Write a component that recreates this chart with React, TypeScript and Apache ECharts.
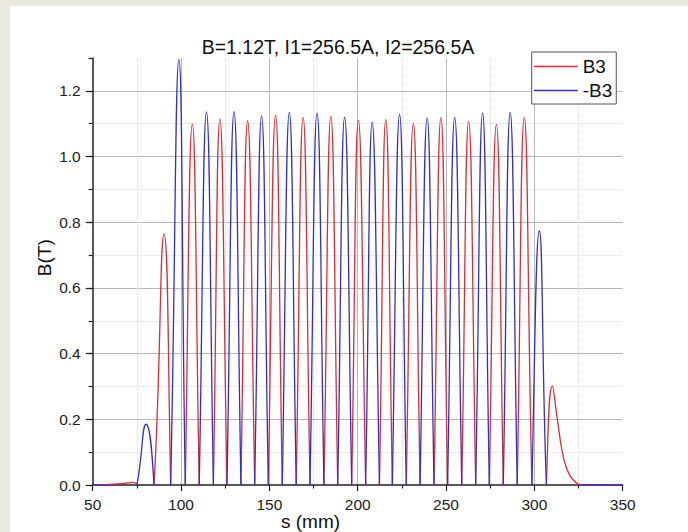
import React, { useEffect, useRef } from 'react';
import * as echarts from 'echarts';

// Zero crossings of B3 (mm)
const crossS = [
  75.0, 84.7, 94.15, 102.4, 110.3, 118.3, 126.0, 133.9, 141.7, 149.4,
  157.3, 165.2, 173.0, 180.9, 188.7, 196.6, 204.5, 212.3, 219.6, 227.5,
  235.3, 243.2, 250.9, 258.9, 266.8, 274.5, 282.4, 290.3, 298.6, 306.8,
];
// Extremes of B3 (position in mm, signed value in T)
const peakS = [
  80.2, 90.4, 98.8, 106.4, 114.4, 122.0, 130.0, 137.7, 145.6, 153.5,
  161.3, 169.1, 177.0, 184.8, 192.6, 200.4, 208.2, 215.9, 223.7, 231.5,
  239.3, 247.1, 254.9, 262.8, 270.7, 278.5, 286.3, 294.3, 302.8, 310.2,
];
const peakB3 = [
  -0.185, 0.764, -1.296, 1.099, -1.136, 1.114, -1.137, 1.109, -1.124, 1.126,
  -1.134, 1.119, -1.133, 1.122, -1.12, 1.111, -1.105, 1.113, -1.128, 1.101,
  -1.118, 1.119, -1.119, 1.107, -1.133, 1.098, -1.134, 1.119, -0.774, 0.301,
];
// Fringe field before the first crossing and after the last peak
const leadS = [50, 60, 68, 72.8];
const leadB3 = [0.0, 0.002, 0.005, 0.008];
const tailS = [313.0, 315.8, 318.0, 320.6, 323.5, 327.0, 350];
const tailB3 = [0.2, 0.1, 0.055, 0.025, 0.008, 0.0, 0.0];

const yMajor = [0, 0.2, 0.4, 0.6, 0.8, 1.0, 1.2];
const titleText = 'B=1.12T, I1=256.5A, I2=256.5A';
const seriesNames = ['B3', '-B3'];

const RED = '#dd2c33';
const BLUE = '#2f2fd0';
const FONT = "'Liberation Sans', Arial, sans-serif";
const AXIS = '#222';

function buildB3(): [number, number][] {
  const pts: [number, number][] = [];
  leadS.forEach((s, i) => pts.push([s, leadB3[i]]));
  for (let i = 0; i < peakS.length; i++) {
    pts.push([crossS[i], 0]);
    pts.push([peakS[i], peakB3[i]]);
  }
  tailS.forEach((s, i) => pts.push([s, tailB3[i]]));
  return pts;
}

export default function App() {
  const ref = useRef<HTMLDivElement>(null);
  useEffect(() => {
    if (!ref.current) return;
    const chart = echarts.init(ref.current, undefined, { renderer: 'svg' });
    const b3 = buildB3();
    const mb3 = b3.map(([s, v]) => [s, -v]);
    const tickLine = { color: AXIS, width: 1.2 };
    chart.setOption({
      animation: false,
      backgroundColor: '#ffffff',
      grid: { left: 82.7, right: 65.3, top: 52, bottom: 47, containLabel: false },
      xAxis: {
        type: 'value',
        min: 50,
        max: 350,
        interval: 50,
        axisLine: { show: true, onZero: false, lineStyle: { color: AXIS, width: 1.5 } },
        axisTick: { show: true, length: 6, lineStyle: tickLine },
        minorTick: { show: true, splitNumber: 2, length: 3.5, lineStyle: tickLine },
        axisLabel: { margin: 11, fontSize: 15.5, color: AXIS, fontFamily: FONT },
        splitLine: { show: true, showMinLine: false, showMaxLine: false, lineStyle: { color: '#b8b8b8', width: 1 } },
        minorSplitLine: { show: true, lineStyle: { color: '#dadada', width: 1, type: 'dotted' } },
      },
      yAxis: [
        {
          type: 'value',
          min: 0,
          max: 1.3,
          interval: 0.1,
          position: 'left',
          axisLine: { show: true, onZero: false, lineStyle: { color: AXIS, width: 1.5 } },
          axisTick: { show: true, length: 4, lineStyle: tickLine },
          axisLabel: { show: false },
          splitLine: { show: true, showMinLine: false, showMaxLine: false, lineStyle: { color: '#dadada', width: 1, type: 'dotted' } },
        },
        {
          type: 'value',
          min: 0,
          max: 1.3,
          interval: 0.2,
          position: 'left',
          axisLine: { show: false, onZero: false },
          axisTick: { show: true, length: 7, customValues: yMajor, lineStyle: tickLine },
          axisLabel: {
            customValues: yMajor,
            margin: 12,
            fontSize: 15.5,
            color: AXIS,
            fontFamily: FONT,
            formatter: (v: number) => v.toFixed(1),
          },
          splitLine: { show: true, showMinLine: false, lineStyle: { color: '#b8b8b8', width: 1 } },
        },
      ],
      legend: {
        orient: 'vertical',
        left: 521.7,
        top: 46,
        data: seriesNames.map((n) => ({ name: n, icon: 'rect' })),
        itemWidth: 44,
        itemHeight: 1.4,
        itemGap: 5,
        padding: [5, 4, 4, 2],
        borderColor: '#555',
        borderWidth: 1,
        borderRadius: 0,
        backgroundColor: '#ffffff',
        textStyle: { fontSize: 19, fontFamily: FONT, color: '#111', lineHeight: 19 },
      },
      graphic: [
        {
          type: 'text',
          x: 328,
          y: 40.5,
          style: { text: titleText, font: `19.5px ${FONT}`, fill: '#111', textAlign: 'center', textVerticalAlign: 'middle' },
        },
        {
          type: 'text',
          x: 300.5,
          y: 515.5,
          style: { text: 's (mm)', font: `19px ${FONT}`, fill: '#111', textAlign: 'center', textVerticalAlign: 'middle' },
        },
        {
          type: 'text',
          x: 34.5,
          y: 251.7,
          rotation: Math.PI / 2,
          style: { text: 'B(T)', font: `19px ${FONT}`, fill: '#111', textAlign: 'center', textVerticalAlign: 'middle' },
        },
      ],
      series: [
        {
          name: seriesNames[0],
          type: 'line',
          data: b3,
          smooth: true,
          symbol: 'none',
          showSymbol: false,
          clip: true,
          xAxisIndex: 0,
          yAxisIndex: 0,
          lineStyle: { color: RED, width: 1.3 },
          itemStyle: { color: RED },
        },
        {
          name: seriesNames[1],
          type: 'line',
          data: mb3,
          smooth: true,
          symbol: 'none',
          showSymbol: false,
          clip: true,
          xAxisIndex: 0,
          yAxisIndex: 0,
          lineStyle: { color: BLUE, width: 1.3 },
          itemStyle: { color: BLUE },
        },
      ],
    });
    return () => chart.dispose();
  }, []);

  return (
    <div style={{ position: 'fixed', left: 0, top: 0, width: 688, height: 532, background: '#ebe9df' }}>
      <div ref={ref} style={{ position: 'absolute', left: 10, top: 6, width: 678, height: 526 }} />
    </div>
  );
}
